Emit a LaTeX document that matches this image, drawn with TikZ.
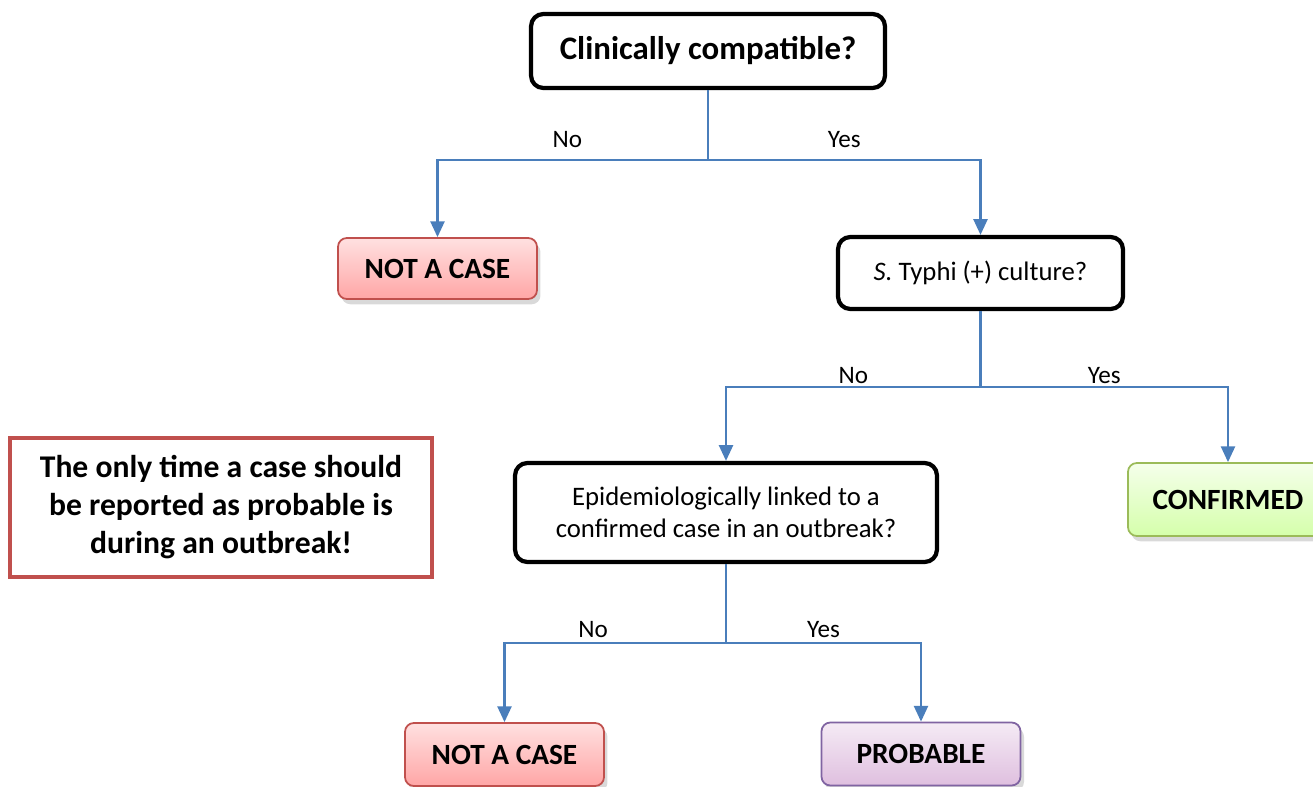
\documentclass[tikz,border=0pt]{standalone}
\usepackage{fontspec}
\setmainfont{Carlito}
\usetikzlibrary{arrows.meta,shadows}

\definecolor{linkblue}{HTML}{4A7EBB}
\definecolor{redline}{HTML}{C0504D}
\definecolor{greenline}{HTML}{9BBB59}
\definecolor{purpleline}{HTML}{8064A2}

\tikzset{
  question/.style={draw=black,line width=2.4pt,rounded corners=7pt,fill=white,
    align=center,font=\fontsize{15.2}{18.2}\selectfont},
  outcome/.style={line width=1pt,rounded corners=5pt,align=center,
    minimum width=3.98cm,font=\fontsize{16.7}{19}\selectfont\bfseries,
    drop shadow={opacity=0.3,shadow xshift=2pt,shadow yshift=-3pt}},
  notcase/.style={outcome,draw=redline,top color=red!12,bottom color=red!35},
  confirmed/.style={outcome,draw=greenline,top color=green!50!yellow!8,bottom color=green!50!yellow!33},
  probable/.style={outcome,draw=purpleline,top color=violet!8,bottom color=violet!25},
  link/.style={draw=linkblue,line width=1.3pt},
  arrow/.style={link,-{Triangle[width=8pt,length=9pt]}},
  answer/.style={font=\fontsize{14.3}{16}\selectfont,text=black}
}

\begin{document}
\begin{tikzpicture}[x=0.02cm,y=-0.02cm]
\clip (0,0) rectangle (1313,787);

% questions
\node[question,minimum width=7.08cm,minimum height=1.48cm,font=\fontsize{18.7}{22}\selectfont\bfseries] (clinical) at (708,51) {Clinically compatible?};
\node[question,minimum width=5.7cm,minimum height=1.44cm] (culture) at (980.5,273) {\textit{S.} Typhi (+) culture?};
\node[question,minimum width=8.44cm,minimum height=1.98cm] (epilink) at (726,512.5) {Epidemiologically linked to a\\confirmed case in an outbreak?};

% outcomes
\node[notcase,minimum height=1.22cm] (notcaseA) at (437.5,268.5) {NOT A CASE};
\node[confirmed,minimum width=4cm,minimum height=1.46cm] (confirmed) at (1228,499.5) {CONFIRMED};
\node[notcase,minimum height=1.26cm] (notcaseB) at (504.5,754.5) {NOT A CASE};
\node[probable,minimum height=1.26cm] (probable) at (921,754) {PROBABLE};

% note
\node[draw=redline,line width=2.6pt,fill=white,minimum width=8.44cm,minimum height=2.78cm,
  align=center,font=\fontsize{18}{21.6}\selectfont\bfseries] (note) at (221,507.5)
  {The only time a case should\\be reported as probable is\\during an outbreak!};

% branches
\draw[link] (clinical.south) -- (708,160) coordinate (forkA);
\draw[arrow] (forkA) -| node[answer,above=3pt,pos=.26] {No} (notcaseA.north);
\draw[arrow] (forkA) -| node[answer,above=3pt,pos=.25] {Yes} (culture.north);

\draw[link] (culture.south) -- ++(0,76) coordinate (forkB);
\draw[arrow] (forkB) -| node[answer,above=-2pt,pos=.25] {No} (epilink.north);
\draw[arrow] (forkB) -| node[answer,above=-2pt,pos=.25] {Yes} (confirmed.north);

\draw[link] (epilink.south) -- ++(0,79) coordinate (forkC);
\draw[arrow] (forkC) -| node[answer,above=-1pt,pos=.3] {No} (notcaseB.north);
\draw[arrow] (forkC) -| node[answer,above=-1pt,pos=.25] {Yes} (probable.north);
\end{tikzpicture}
\end{document}
